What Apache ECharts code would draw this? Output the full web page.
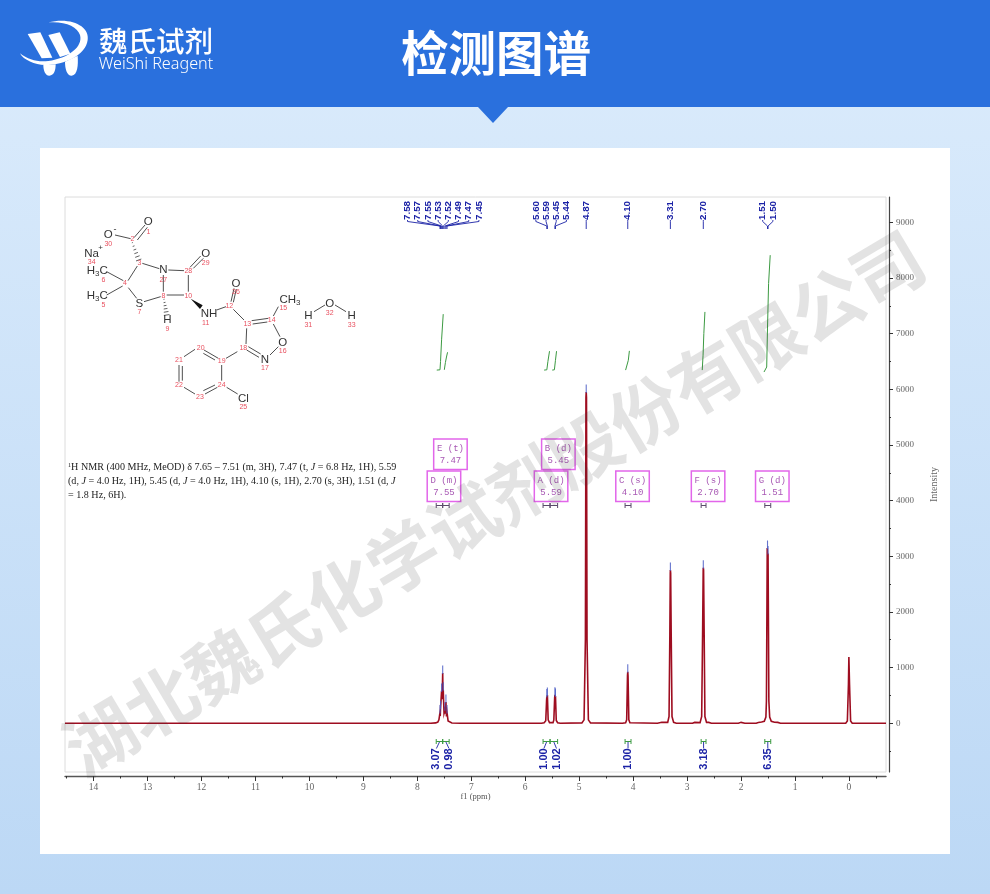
<!DOCTYPE html>
<html>
<head>
<meta charset="utf-8">
<style>html,body{margin:0;padding:0;background:#fff}#c{width:990px;height:894px}</style>
<script src="https://cdn.jsdelivr.net/npm/echarts@6/dist/echarts.min.js"></script>
</head>
<body>
<div id="c"></div>
<script>
// ---------- data ----------
const specPpm = [14.53,9,8,7.75,7.66,7.62,7.6,7.58,7.575,7.57,7.56,7.55,7.54,7.53,7.525,7.52,7.505,7.49,7.48,7.47,7.46,7.45,7.43,7.41,7.36,7.2,
  5.7,5.65,5.62,5.605,5.6,5.597,5.59,5.575,5.55,5.52,5.485,5.47,5.455,5.45,5.445,5.44,5.425,5.4,5.35,
  4.95,4.91,4.885,4.875,4.87,4.865,4.855,4.83,4.79,4.2,4.14,4.12,4.105,4.1,4.095,4.08,4.06,3.55,3.47,3.45,
  3.36,3.335,3.32,3.312,3.31,3.305,3.295,3.28,3.25,3.2,2.9,2.86,2.84,2.76,2.73,2.712,2.702,2.7,2.695,2.685,2.67,2.64,2.6,2.58,2.55,
  2.05,2,1.97,1.93,1.72,1.68,1.62,1.57,1.54,1.53,1.52,1.515,1.507,1.5,1.495,1.485,1.47,1.44,1.41,1.38,1.32,1.3,1.27,
  0.06,0.03,0.01,0.002,-0.002,-0.01,-0.03,-0.06,-0.686];
const specIntensity = [0,0,0,0,5,20,60,190,130,270,240,580,430,900,520,600,180,240,170,380,120,190,40,12,3,0,
  0,8,45,400,480,440,505,60,10,4,10,60,450,510,440,490,50,8,0,
  5,60,1500,5850,5950,5850,1500,60,5,0,8,60,850,925,850,60,8,0,18,0,
  15,120,1600,2700,2753,2700,1600,120,15,0,0,14,0,10,120,1700,2750,2794,2750,1700,120,15,14,18,0,
  0,15,0,0,0,12,20,35,110,400,2200,3148,2980,3050,2200,400,110,35,25,18,14,10,0,
  0,40,700,1190,1190,700,40,0,0];

const peakPpm = [7.58,7.57,7.55,7.53,7.52,7.49,7.47,7.45,5.60,5.59,5.45,5.44,4.87,4.10,3.31,2.70,1.51,1.50];
const peakIntensity = [190,270,580,900,600,240,380,190,480,505,510,490,5950,925,2753,2794,3148,3050];
const peakGroups = [8,4,1,1,1,1,2];

const integralCurves = [
  [[7.64,6345],[7.58,6350],[7.57,6500],[7.55,6900],[7.52,7350]],
  [[7.50,6350],[7.48,6480],[7.46,6580],[7.44,6665]],
  [[5.65,6345],[5.60,6350],[5.58,6500],[5.55,6685]],
  [[5.50,6345],[5.46,6350],[5.44,6520],[5.42,6685]],
  [[4.14,6345],[4.11,6350],[4.09,6520],[4.07,6690]],
  [[2.72,6345],[2.705,6600],[2.69,7000],[2.67,7390]],
  [[1.575,6310],[1.525,6400],[1.51,7100],[1.49,7900],[1.46,8410]]
];

const integralFrom = [7.65,7.53,5.67,5.54,4.15,2.74,1.56];
const integralTo = [7.53,7.41,5.54,5.40,4.04,2.65,1.45];
const integralValue = ['3.07','0.98','1.00','1.02','1.00','3.18','6.35'];
const integralGroups = [2,2,1,1,1];

const multipletName = ['D (m)','E (t)','A (d)','B (d)','C (s)','F (s)','G (d)'];
const multipletShift = ['7.55','7.47','5.59','5.45','4.10','2.70','1.51'];
const multipletFrom = [7.65,7.53,5.67,5.54,4.15,2.74,1.56];
const multipletTo = [7.53,7.41,5.54,5.40,4.04,2.65,1.45];

const xMajor = [0,1,2,3,4,5,6,7,8,9,10,11,12,13,14];
const xMinor = [-0.5,0.5,1.5,2.5,3.5,4.5,5.5,6.5,7.5,8.5,9.5,10.5,11.5,12.5,13.5,14.5];
const yMajor = [0,1000,2000,3000,4000,5000,6000,7000,8000,9000];
const yMinor = [-500,500,1500,2500,3500,4500,5500,6500,7500,8500,9500];
const titleText = '检测图谱';
const watermarkText = '湖北魏氏化学试剂股份有限公司';

// ---------- structure sketch (illustration, in a 3x working space) ----------
const atomTexts = [
 ['O',265,95],['O',145,133],['Na',95,190],['N',310,240],['O',437,190],['S',238,340],
 ['H',322,390],['NH',447,370],['O',528,280],['O',668,457],['N',615,510],['Cl',550,625],
 ['H',745,378],['O',809,340],['H',875,378]
];
const atomNumbers = [
 ['1',265,125],['2',217,148],['30',145,162],['34',95,217],['3',238,218],['27',310,270],['28',385,243],['29',437,220],
 ['4',195,280],['6',130,270],['5',130,346],['7',238,367],['8',310,317],['10',385,317],['9',322,418],['11',437,398],
 ['12',508,348],['26',528,307],['13',562,402],['14',635,390],['15',670,355],['16',668,484],['17',615,535],['18',550,475],
 ['19',485,512],['20',422,475],['21',357,511],['22',357,586],['23',420,622],['24',485,585],['25',550,652],
 ['31',745,405],['32',809,368],['33',875,405]
];
const bondSegs = [
 [222,143,255,105],[232,150,262,112],[165,135,212,146],[247,220,298,236],[232,228,204,272],[190,272,140,245],[188,288,140,315],
 [205,293,230,325],[252,335,302,320],[310,305,310,255],[325,240,372,242],[390,232,422,198],[400,235,430,205],[385,255,385,305],
 [320,315,372,315],[470,360,498,350],[513,335,522,295],[520,337,529,297],[520,358,552,390],[575,392,625,385],[578,402,622,396],
 [640,378,655,350],[640,402,660,440],[655,470,630,495],[565,470,602,492],[560,480,597,502],[558,462,560,415],[532,485,498,505],
 [475,505,432,480],[465,510,430,490],[405,478,372,500],[357,525,357,575],[367,528,367,572],[372,592,405,612],[435,612,472,592],
 [430,602,465,585],[485,572,485,525],[500,592,533,612],[762,365,795,345],[825,345,858,365]
];
const hashedBonds = [[217,158,236,210],[312,328,320,375]];

// ---------- helpers ----------
const SX = 60, SY = 190;
const zx = v => SX + v/3, zy = v => SY + v/3;
const sans = '"Liberation Sans",Arial,sans-serif';
const serif = '"Liberation Serif","Times New Roman",serif';
const cjk = '"Noto Sans CJK SC",sans-serif';
const BLUE = '#1b22a6', GREEN = '#3c9a42', RED = '#9e0d20', TIP = '#4a5cc4';

const structure = [];
bondSegs.forEach(b => structure.push({type:'line',silent:true,shape:{x1:zx(b[0]),y1:zy(b[1]),x2:zx(b[2]),y2:zy(b[3])},style:{stroke:'#3a3a3a',lineWidth:0.9}}));
hashedBonds.forEach(b => {
  const n=6, dx=b[2]-b[0], dy=b[3]-b[1], L=Math.hypot(dx,dy), ux=-dy/L, uy=dx/L;
  for(let i=0;i<n;i++){const t=i/(n-1), w=(1.5+t*7), cx=b[0]+dx*t, cy=b[1]+dy*t;
    structure.push({type:'line',silent:true,shape:{x1:zx(cx-ux*w),y1:zy(cy-uy*w),x2:zx(cx+ux*w),y2:zy(cy+uy*w)},style:{stroke:'#3a3a3a',lineWidth:0.8}});}
});
structure.push({type:'polygon',silent:true,shape:{points:[[zx(392),zy(326)],[zx(420),zy(357)],[zx(428),zy(346)]]},style:{fill:'#111'}});
atomTexts.forEach(a => structure.push({type:'text',silent:true,x:zx(a[1]),y:zy(a[2]),style:{text:a[0],x:0,y:0,align:'center',verticalAlign:'middle',font:'11.5px '+sans,fill:'#333'}}));
atomNumbers.forEach(a => structure.push({type:'text',silent:true,x:zx(a[1]),y:zy(a[2]),style:{text:a[0],x:0,y:0,align:'center',verticalAlign:'middle',font:'7px '+sans,fill:'#e8505f'}}));
const richGroup = (text,x,y) => ({type:'text',silent:true,x:zx(x),y:zy(y),style:{text,x:0,y:0,align:'center',verticalAlign:'middle',
  fill:'#333',font:'11.5px '+sans,rich:{a:{font:'11.5px '+sans,fill:'#333'},s:{font:'8px '+sans,fill:'#333',verticalAlign:'bottom',padding:[5,0,0,0]}}}});
structure.push(richGroup('{a|H}{s|3}{a|C}',112,243),richGroup('{a|H}{s|3}{a|C}',112,318),richGroup('{a|CH}{s|3}',690,330));
structure.push({type:'text',silent:true,x:zx(122),y:zy(172),style:{text:'+',x:0,y:0,align:'center',verticalAlign:'middle',font:'8px '+sans,fill:'#333'}});
structure.push({type:'text',silent:true,x:zx(165),y:zy(120),style:{text:'-',x:0,y:0,align:'center',verticalAlign:'middle',font:'9px '+sans,fill:'#333'}});

const nmrRich = {
  n:{font:'10.1px '+serif,fill:'#222'},
  i:{font:'italic 10.1px '+serif,fill:'#222'},
  u:{font:'6.2px '+serif,fill:'#222',verticalAlign:'top',padding:[0,0,4,0]}
};
const nmrLines = [
 '{u|1}{n|H NMR (400 MHz, MeOD) δ 7.65 – 7.51 (m, 3H), 7.47 (t, }{i|J}{n| = 6.8 Hz, 1H), 5.59}',
 '{n|(d, }{i|J}{n| = 4.0 Hz, 1H), 5.45 (d, }{i|J}{n| = 4.0 Hz, 1H), 4.10 (s, 1H), 2.70 (s, 3H), 1.51 (d, }{i|J}',
 '{n|= 1.8 Hz, 6H).}'
];

const logoPaths = [
 'M100,22 C170,5 225,35 218,75 C212,120 150,150 90,150 C60,150 25,135 15,115 C40,135 70,142 100,138 C160,130 205,95 195,60 C188,35 150,18 100,22 Z',
 'M38,57 L76,52 L112,128 L80,130 Z',
 'M100,60 L134,52 L166,116 L135,126 Z',
 'M85,150 L122,148 C122,165 118,182 103,182 C90,182 85,165 85,150 Z M150,140 L188,122 C190,150 188,180 170,182 C155,182 150,160 150,140 Z'
];
logoPaths.forEach((d,i)=>echarts.graphic.registerShape('logoPart'+i, echarts.graphic.extendPath(d,{})));

const background = [
 {type:'rect',z:-10,silent:true,shape:{x:0,y:0,width:990,height:894},style:{fill:new echarts.graphic.LinearGradient(0,0,0,1,[{offset:0,color:'#dcecfc'},{offset:1,color:'#bcd8f5'}])}},
 {type:'rect',z:-9,silent:true,shape:{x:0,y:0,width:990,height:107},style:{fill:'#2a70dd'}},
 {type:'polygon',z:-9,silent:true,shape:{points:[[478,107],[508,107],[493,123]]},style:{fill:'#2a70dd'}},
 {type:'rect',z:-9,silent:true,shape:{x:40,y:148,width:910,height:706},style:{fill:'#fff'}},
];
const logo = {type:'group',x:15,y:15,scaleX:1/3,scaleY:1/3,children:logoPaths.map((d,i)=>({type:'logoPart'+i,silent:true,style:{fill:'#fff'}}))};
const headerTexts = [
 {type:'text',silent:true,x:156,y:41,style:{text:'魏氏试剂',x:0,y:0,align:'center',verticalAlign:'middle',font:'500 28.5px '+cjk,fill:'#fff'}},
 {type:'text',silent:true,x:156,y:64,style:{text:'WeiShi Reagent',x:0,y:0,align:'center',verticalAlign:'middle',font:'300 16.2px "Noto Sans",sans-serif',fill:'#fff'}},
 {type:'text',silent:true,x:496,y:53,style:{text:titleText,x:0,y:0,align:'center',verticalAlign:'middle',font:'700 47.5px '+cjk,fill:'#fff'}},
];
const nmrTexts = nmrLines.map((t,i)=>({type:'text',silent:true,x:68,y:467.5+i*14,style:{text:t,x:0,y:0,align:'left',verticalAlign:'middle',rich:nmrRich}}));
const watermark = {type:'text',silent:true,z:50,x:494,y:503,rotation:30.8*Math.PI/180,style:{text:watermarkText,x:0,y:0,align:'center',verticalAlign:'middle',font:'700 70.5px '+cjk,fill:'rgba(60,60,60,0.14)'}};

// ---------- custom renderers: all x positions come from the axis ----------
let groupStart = []; { let s=0; peakGroups.forEach(n=>{ for(let k=0;k<n;k++) groupStart.push([s,n]); s+=n; }); }
function renderPeakTip(params, api){
  const p = api.coord([api.value(0), api.value(1)]);
  return {type:'line',shape:{x1:p[0],y1:p[1]+1,x2:p[0],y2:p[1]-7.5},style:{stroke:TIP,lineWidth:1.1,opacity:0.85}};
}
function renderPeakLabel(params, api){
  const i = params.dataIndex, [s,n] = groupStart[i];
  const x = api.coord([api.value(0),0])[0];
  let c = 0; for(let k=s;k<s+n;k++) c += api.coord([peakPpm[k],0])[0]; c/=n;
  const slot = c + (i-s-(n-1)/2)*10.2;
  return {type:'group',children:[
    {type:'polyline',shape:{points:[[slot,220],[slot,221.5],[x,226],[x,229]]},style:{stroke:BLUE,fill:null,lineWidth:0.9}},
    {type:'text',x:slot,y:210.5,rotation:Math.PI/2,style:{text:peakPpm[i].toFixed(2),x:0,y:0,align:'center',verticalAlign:'middle',font:'bold 9.8px '+sans,fill:BLUE}}
  ]};
}
let intGroup = []; { let s=0; integralGroups.forEach(n=>{ for(let k=0;k<n;k++) intGroup.push([s,n]); s+=n; }); }
function renderIntegral(params, api){
  const i = params.dataIndex, [s,n] = intGroup[i];
  const x1 = api.coord([integralFrom[i],0])[0], x2 = api.coord([integralTo[i],0])[0], mid=(x1+x2)/2;
  let c=0; for(let k=s;k<s+n;k++) c+=(api.coord([integralFrom[k],0])[0]+api.coord([integralTo[k],0])[0])/2; c/=n;
  const slot = c + (i-s-(n-1)/2)*12.6;
  const g={stroke:GREEN,lineWidth:1};
  return {type:'group',children:[
    {type:'line',shape:{x1:x1,y1:741.5,x2:x2,y2:741.5},style:g},
    {type:'line',shape:{x1:x1,y1:739,x2:x1,y2:744},style:g},
    {type:'line',shape:{x1:x2,y1:739,x2:x2,y2:744},style:g},
    {type:'polyline',shape:{points:[[mid,742],[slot,748.5]]},style:{stroke:BLUE,fill:null,lineWidth:0.9}},
    {type:'text',x:slot,y:759,rotation:Math.PI/2,style:{text:integralValue[i],x:0,y:0,align:'center',verticalAlign:'middle',font:'bold 11px '+sans,fill:BLUE}}
  ]};
}
const multipletRows = [];
multipletFrom.forEach((f,i)=>{
  const mid=(f+multipletTo[i])/2;
  let row=0;
  if(i>0){const pm=(multipletFrom[i-1]+multipletTo[i-1])/2; if(Math.abs(pm-mid)<0.5 && !multipletRows[i-1]) row=1;}
  multipletRows.push(row);
});
function renderMultiplet(params, api){
  const i = params.dataIndex;
  const x1 = api.coord([multipletFrom[i],0])[0], x2 = api.coord([multipletTo[i],0])[0], c=(x1+x2)/2+4.5;
  const top = multipletRows[i] ? 439 : 471, h=30.5, w=33.5;
  const col='#a858b4';
  const kids = [
    {type:'rect',shape:{x:c-w/2,y:top,width:w,height:h},style:{stroke:'#e266ea',fill:'rgba(255,255,255,0)',lineWidth:1.5}},
    {type:'text',x:c,y:top+9.5,style:{text:multipletName[i],x:0,y:0,align:'center',verticalAlign:'middle',font:'9px "Liberation Mono",monospace',fill:col}},
    {type:'text',x:c,y:top+22,style:{text:multipletShift[i],x:0,y:0,align:'center',verticalAlign:'middle',font:'9px "Liberation Mono",monospace',fill:col}},
    {type:'line',shape:{x1:x1,y1:505.5,x2:x2,y2:505.5},style:{stroke:'#5a4a6a',lineWidth:1}},
    {type:'line',shape:{x1:x1,y1:503,x2:x1,y2:508},style:{stroke:'#5a4a6a',lineWidth:1}},
    {type:'line',shape:{x1:x2,y1:503,x2:x2,y2:508},style:{stroke:'#5a4a6a',lineWidth:1}}
  ];
  return {type:'group',children:kids};
}

const chart = echarts.init(document.getElementById('c'), null, {renderer:'canvas'});
const axisTxt = {fontFamily:serif,fontSize:9.5,color:'#666'};
const xBase = {type:'value',inverse:true,min:-0.686,max:14.53,position:'bottom',offset:4,splitLine:{show:false}};
const yBase = {type:'value',min:-877,max:9455,position:'right',offset:3,splitLine:{show:false}};
const integralSeries = integralCurves.map(c=>({type:'line',data:c,showSymbol:false,silent:true,z:3,lineStyle:{color:GREEN,width:1}}));
chart.setOption({
  animation:false,
  backgroundColor:'transparent',
  grid:{left:65,top:197,width:821,height:575,show:true,borderColor:'#dcdcdc',borderWidth:1,backgroundColor:'transparent'},
  xAxis:[
    Object.assign({},xBase,{name:'f1 (ppm)',nameLocation:'middle',nameGap:16,nameMoveOverlap:false,nameTextStyle:{fontFamily:serif,fontSize:8.5,color:'#555'},
      axisLine:{show:true,onZero:false,lineStyle:{color:'#555',width:1.4}},
      axisTick:{show:true,length:5,lineStyle:{color:'#333'},customValues:xMajor},
      axisLabel:Object.assign({},axisTxt,{margin:6,customValues:xMajor,formatter:v=>String(v)})}),
    Object.assign({},xBase,{axisLine:{show:false,onZero:false},
      axisTick:{show:true,length:2.5,lineStyle:{color:'#333'},customValues:xMinor},
      axisLabel:{show:false}})
  ],
  yAxis:[
    Object.assign({},yBase,{name:'Intensity',nameLocation:'middle',nameGap:40,nameRotate:90,nameTextStyle:{fontFamily:serif,fontSize:10,color:'#666'},
      axisLine:{show:true,onZero:false,lineStyle:{color:'#444',width:1.2}},
      axisTick:{show:true,length:4,lineStyle:{color:'#333'},customValues:yMajor},
      axisLabel:Object.assign({},axisTxt,{fontSize:9,margin:7,customValues:yMajor,formatter:v=>String(v)})}),
    Object.assign({},yBase,{axisLine:{show:false,onZero:false},
      axisTick:{show:true,length:2,lineStyle:{color:'#333'},customValues:yMinor},
      axisLabel:{show:false}})
  ],
  series:[
    {type:'line',name:'1H NMR',data:specPpm.map((p,i)=>[p,specIntensity[i]]),showSymbol:false,silent:true,z:4,clip:false,lineStyle:{color:RED,width:1.6,join:'miter'}},
    ...integralSeries,
    {type:'custom',name:'tips',data:peakPpm.map((p,i)=>[p,peakIntensity[i]]),renderItem:renderPeakTip,silent:true,clip:false,z:5},
    {type:'custom',name:'peak labels',data:peakPpm.map((p,i)=>[p,peakIntensity[i]]),renderItem:renderPeakLabel,silent:true,clip:false,z:5},
    {type:'custom',name:'integrals',data:integralFrom.map((f,i)=>[f,0]),renderItem:renderIntegral,silent:true,clip:false,z:5},
    {type:'custom',name:'multiplets',data:multipletFrom.map((f,i)=>[f,0]),renderItem:renderMultiplet,silent:true,clip:false,z:3}
  ],
  graphic:{elements:[...background,logo,...headerTexts,...structure,...nmrTexts,watermark]}
});
</script>
</body>
</html>
